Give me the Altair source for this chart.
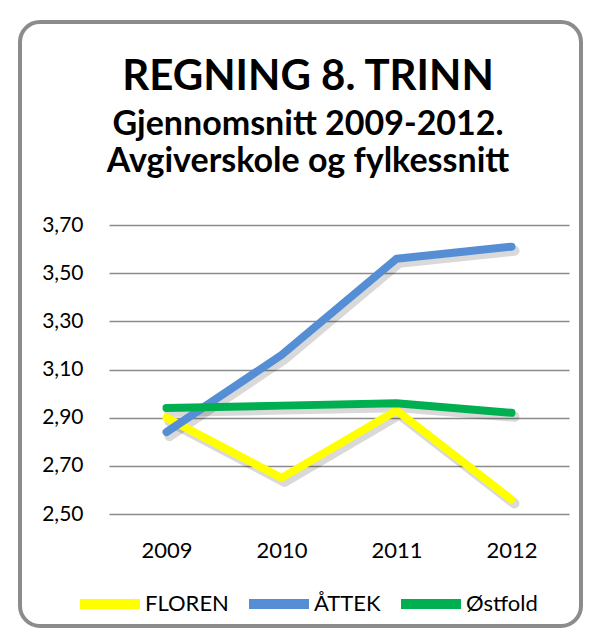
import altair as alt
import pandas as pd

years = ["2009", "2010", "2011", "2012"]
series_names = ["FLOREN", "ÅTTEK", "Østfold"]
floren = [2.90, 2.65, 2.93, 2.56]
attek = [2.84, 3.16, 3.56, 3.61]
ostfold = [2.94, 2.95, 2.96, 2.92]
colors = ["#FFFF00", "#558ED5", "#00B050"]
y_ticks = [2.5, 2.7, 2.9, 3.1, 3.3, 3.5, 3.7]

rows = []
for name, vals in zip(series_names, [floren, attek, ostfold]):
    for yr, v in zip(years, vals):
        rows.append({"year": yr, "series": name, "value": v})
df = pd.DataFrame(rows)

FONT = "Lato"

x_enc = alt.X("year:N", sort=years, title=None,
              scale=alt.Scale(type="point", padding=0.5),
              axis=alt.Axis(labelAngle=0, labelFontSize=22, labelFont=FONT,
                            labelColor="black", labelPadding=26, ticks=False,
                            domain=False, grid=False))
y_enc = alt.Y("value:Q", title=None,
              scale=alt.Scale(domain=[2.5, 3.7], nice=False, zero=False),
              axis=alt.Axis(values=y_ticks, labelFontSize=21, labelFont=FONT,
                            labelColor="black", labelPadding=26, ticks=False,
                            domain=False, grid=True, gridColor="#8a8a8a",
                            gridWidth=1.5,
                            labelExpr="replace(format(datum.value, '.2f'), '.', ',')"))

shadow = alt.Chart(df).mark_line(
    color="black", opacity=0.15, strokeWidth=10, xOffset=3, yOffset=4,
    strokeCap="round", strokeJoin="round"
).encode(x=x_enc, y=y_enc, detail="series:N")

lines = alt.Chart(df).mark_line(
    strokeWidth=8, strokeCap="round", strokeJoin="round"
).encode(
    x=x_enc, y=y_enc,
    color=alt.Color("series:N", sort=series_names,
                    scale=alt.Scale(domain=series_names, range=colors),
                    legend=alt.Legend(title=None, orient="none", direction="horizontal",
                                      legendX=-34, legendY=344,
                                      symbolType="stroke", symbolSize=3600,
                                      symbolStrokeWidth=10, labelFontSize=22,
                                      labelFont=FONT, labelColor="black",
                                      labelOffset=0, columnPadding=0,
                                      padding=0, offset=0)),
)

frame = alt.Chart(pd.DataFrame({"k": [0]})).mark_rect(
    fillOpacity=0, stroke="#8c8c8c", strokeWidth=4, cornerRadius=20
).encode(
    x=alt.value(-89), x2=alt.value(472),
    y=alt.value(-203), y2=alt.value(401),
)

chart = alt.layer(frame, shadow, lines).properties(
    width=460, height=289,
    padding={"left": 10, "top": 12, "right": 0, "bottom": 0},
    title=alt.TitleParams(
        text="REGNING 8. TRINN",
        subtitle=["Gjennomsnitt 2009-2012.", "Avgiverskole og fylkessnitt"],
        font=FONT, fontSize=42, fontWeight="bold", color="black",
        subtitleFont=FONT, subtitleFontSize=34, subtitleFontWeight="bold",
        subtitleColor="black", subtitleLineHeight=37, subtitlePadding=9,
        anchor="middle", frame="group", dx=-31, offset=-160,
    ),
).configure(background="white").configure_view(stroke="transparent", strokeWidth=0)

chart.save("out.html", embed_options={"renderer": "svg", "actions": False})
